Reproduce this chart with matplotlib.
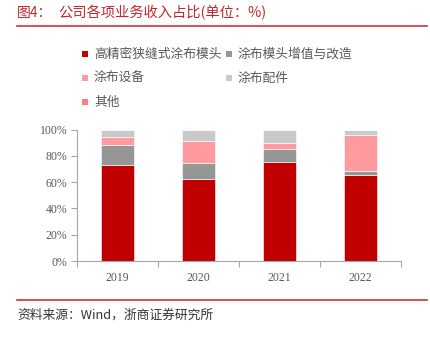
import matplotlib
matplotlib.use("Agg")
import matplotlib.pyplot as plt
from matplotlib.patches import Rectangle
from matplotlib.lines import Line2D
import numpy as np

plt.rcParams['font.family'] = ['Noto Sans CJK SC', 'DejaVu Sans']

years = ["2019", "2020", "2021", "2022"]
series_names = ["高精密狭缝式涂布模头", "涂布模头增值与改造", "涂布设备", "涂布配件", "其他"]
die_head = [73.3, 62.7, 75.6, 65.7]
upgrade = [15.3, 12.2, 9.9, 3.1]
equipment = [6.1, 16.3, 4.6, 27.4]
parts = [4.8, 8.3, 9.4, 3.3]
others = [0.5, 0.5, 0.5, 0.5]
colors = ["#C00000", "#969696", "#FF9BA0", "#C9C9C9", "#FF7C80"]
yticks = [0, 20, 40, 60, 80, 100]
ytick_labels = ["0%", "20%", "40%", "60%", "80%", "100%"]

W, H = 430, 338
fig = plt.figure(figsize=(W / 100, H / 100), dpi=100)

def fx(px):
    return px / W

def fy(py):
    return 1 - py / H

ax = fig.add_axes([fx(77), fy(261), fx(401) - fx(77), fy(129.7) - fy(261)])
x = np.arange(len(years))
bottom = np.zeros(len(years))
for vals, c in zip([die_head, upgrade, equipment, parts, others], colors):
    ax.bar(x, vals, width=0.4, bottom=bottom, color=c, edgecolor="white", linewidth=0.4)
    bottom += np.array(vals)

ax.set_xlim(-0.5, len(years) - 0.5)
ax.set_ylim(0, 100)
ax.set_yticks(yticks)
ax.set_yticklabels(ytick_labels, family="Liberation Serif", fontsize=8.5, color="#595959")
ax.set_xticks(x)
ax.set_xticklabels(years, family="Liberation Serif", fontsize=8.5, color="#595959")
ax.set_xticks(np.arange(-0.5, len(years), 1.0), minor=True)
ax.tick_params(axis="x", which="major", length=0, pad=8)
ax.tick_params(axis="x", which="minor", length=4, color="#A6A6A6", width=0.8)
ax.tick_params(axis="y", which="major", length=4, color="#A6A6A6", width=0.8, pad=3)
for s in ["top", "right"]:
    ax.spines[s].set_visible(False)
for s in ["left", "bottom"]:
    ax.spines[s].set_color("#A6A6A6")
    ax.spines[s].set_linewidth(0.8)

# Title and rules
fig.text(fx(17), fy(13), "图4：", color="#C0282D", fontsize=10, va="center", ha="left")
fig.text(fx(58), fy(13), "公司各项业务收入占比(单位：%)", color="#C0282D", fontsize=10.3, va="center", ha="left")
fig.add_artist(Line2D([fx(17), fx(427)], [fy(26), fy(26)], color="#D0343A", linewidth=1.2))
fig.add_artist(Line2D([fx(17), fx(427)], [fy(300), fy(300)], color="#E0282D", linewidth=1.2))
fig.text(fx(17), fy(315), "资料来源：Wind，浙商证券研究所", color="#333333", fontsize=9.2, va="center", ha="left")

# Legend
legend_pos = [(85, 54), (229, 54), (85, 78), (229, 78), (85, 102)]
for name, c, (px, py) in zip(series_names, colors, legend_pos):
    fig.add_artist(Rectangle((fx(px - 3), fy(py + 3)), 6 / W, 6 / H, facecolor=c, edgecolor="none"))
    fig.text(fx(px + 9), fy(py), name, color="#595959", fontsize=9.2, va="center", ha="left")

fig.savefig("out.png", dpi=100)
